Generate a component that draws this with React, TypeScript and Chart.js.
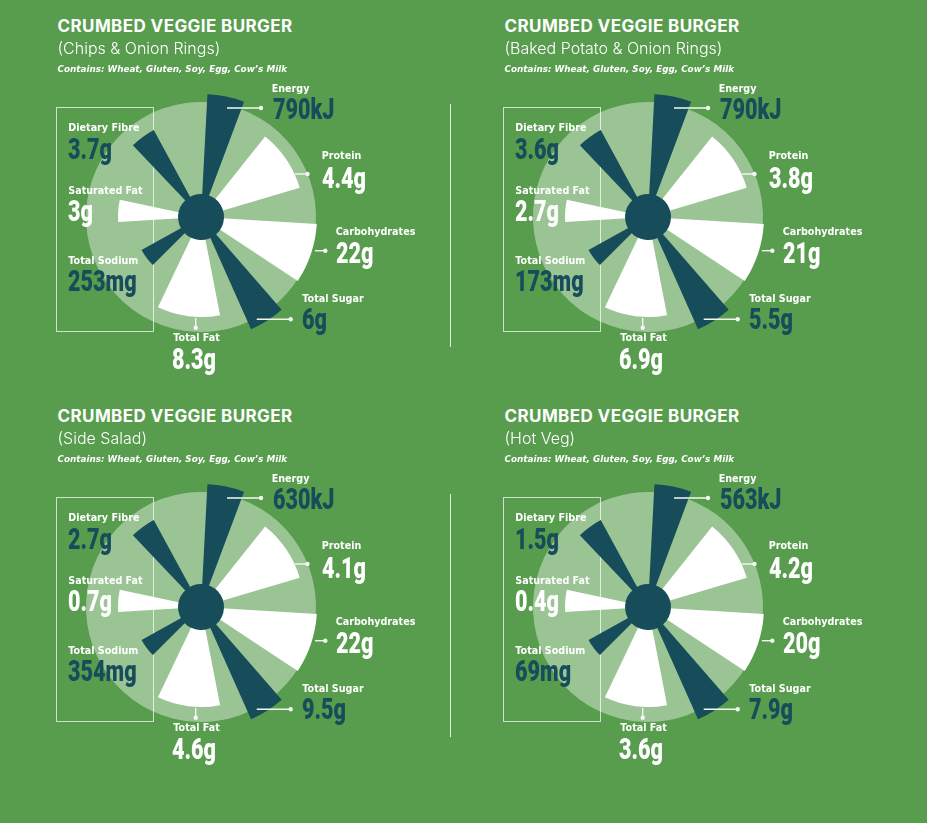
import React, { useEffect, useRef } from 'react';
import { Chart, registerables } from 'chart.js';

Chart.register(...registerables);

// ---------- data ----------
const productTitle = 'CRUMBED VEGGIE BURGER';
const allergenLine = 'Contains: Wheat, Gluten, Soy, Egg, Cow\u2019s Milk';
const mealNames = ['(Chips & Onion Rings)', '(Baked Potato & Onion Rings)', '(Side Salad)', '(Hot Veg)'];
const nutrients = ['Energy', 'Protein', 'Carbohydrates', 'Total Sugar', 'Total Fat', 'Total Sodium', 'Saturated Fat', 'Dietary Fibre'];
const chipsOnionRings = ['790kJ', '4.4g', '22g', '6g', '8.3g', '253mg', '3g', '3.7g'];
const bakedPotatoOnionRings = ['790kJ', '3.8g', '21g', '5.5g', '6.9g', '173mg', '2.7g', '3.6g'];
const sideSalad = ['630kJ', '4.1g', '22g', '9.5g', '4.6g', '354mg', '0.7g', '2.7g'];
const hotVeg = ['563kJ', '4.2g', '20g', '7.9g', '3.6g', '69mg', '0.4g', '1.5g'];
const mealValues = [chipsOnionRings, bakedPotatoOnionRings, sideSalad, hotVeg];
// decorative petal series (radial length, angular span in degrees, following gap in degrees)
const petalLengths = [123, 103, 116, 123, 100, 68, 83, 99];
const petalSpans = [17.5, 35, 30, 17, 36.5, 16, 15.5, 15];
const gapSpans = [18, 20, 15.5, 13, 19.5, 25.5, 34.5, 31.5];
const discValue = [115];
const hubValue = [23];

// ---------- styles / layout ----------
const DARK = '#174d5a';
const WHITE = '#ffffff';
const DISC = 'rgba(255,255,255,0.4)';
const BG = '#589d4e';
const darkNutrients = new Set(['Energy', 'Total Sugar', 'Total Sodium', 'Dietary Fibre']);
const CENTERS: [number, number][] = [[201, 217], [648, 217], [201, 607], [648, 607]];
const HALF = 130;
// label offsets relative to the petal centre: name x, name cap-top, value x, value cap-top
const LABEL_POS = [
  [70.7, -132, 71.7, -119.3],
  [120.7, -65.3, 121, -50.3],
  [134.7, 10.7, 134.7, 24.7],
  [101.3, 78, 101.3, 91.3],
  [-27.7, 117.3, -28.7, 131.3],
  [-132.7, 39.7, -132.7, 53],
  [-132.7, -30.3, -132.7, -17],
  [-132.7, -93, -132.7, -78.7],
];

const connectorPlugin = {
  id: 'connectors',
  afterDatasetsDraw(chart: any) {
    const s = chart.scales.r;
    const cx = s.xCenter;
    const cy = s.yCenter;
    const ctx = chart.ctx;
    const segs = [
      [26, -109, 60, -109],
      [94, -43, 106.5, -43],
      [114, 33.7, 124.3, 33.7],
      [55.7, 102.3, 89.7, 102.3],
      [-5.3, 101, -5.3, 110.7],
    ];
    ctx.save();
    ctx.strokeStyle = '#f4f8f2';
    ctx.fillStyle = '#f4f8f2';
    ctx.lineWidth = 1.4;
    for (const [x1, y1, x2, y2] of segs) {
      ctx.beginPath();
      ctx.moveTo(cx + x1, cy + y1);
      ctx.lineTo(cx + x2, cy + y2);
      ctx.stroke();
      ctx.beginPath();
      ctx.arc(cx + x2, cy + y2, 2.2, 0, Math.PI * 2);
      ctx.fill();
    }
    ctx.restore();
  },
};

function Txt(props: any) {
  const { x, capTop, size, family, weight, capK, color, italic, sx, ls, children } = props;
  return (
    <div
      style={{
        position: 'absolute',
        left: x,
        top: capTop - capK * size,
        fontFamily: family,
        fontSize: size,
        fontWeight: weight,
        fontStyle: italic ? 'italic' : 'normal',
        lineHeight: 1,
        color,
        whiteSpace: 'nowrap',
        letterSpacing: ls || 0,
        transform: sx ? `scaleX(${sx})` : undefined,
        transformOrigin: 'left top',
      }}
    >
      {children}
    </div>
  );
}

function Petals({ cx, cy }: { cx: number; cy: number }) {
  const ref = useRef<HTMLCanvasElement | null>(null);
  useEffect(() => {
    if (!ref.current) return;
    const data: number[] = [];
    const angles: number[] = [];
    const colors: string[] = [];
    petalLengths.forEach((len, i) => {
      data.push(len);
      angles.push(petalSpans[i]);
      colors.push(darkNutrients.has(nutrients[i]) ? DARK : WHITE);
      data.push(0);
      angles.push(gapSpans[i]);
      colors.push('rgba(0,0,0,0)');
    });
    const chart = new Chart(ref.current, {
      type: 'polarArea',
      data: {
        labels: data.map((_, i) => String(i)),
        datasets: [
          { data: hubValue, backgroundColor: DARK, borderWidth: 0, angle: 360 } as any,
          { data, backgroundColor: colors, borderWidth: 0, angle: (c: any) => angles[c.dataIndex] } as any,
          { data: discValue, backgroundColor: DISC, borderWidth: 0, angle: 360 } as any,
        ],
      },
      options: {
        responsive: false,
        animation: false,
        events: [],
        layout: { padding: 0 },
        plugins: { legend: { display: false }, tooltip: { enabled: false } },
        scales: {
          r: {
            min: 0,
            max: HALF,
            startAngle: 3,
            ticks: { display: false },
            grid: { display: false },
            angleLines: { display: false },
            pointLabels: { display: false },
          },
        },
      } as any,
      plugins: [connectorPlugin],
    });
    return () => chart.destroy();
  }, []);
  return (
    <canvas
      ref={ref}
      width={HALF * 2}
      height={HALF * 2}
      style={{ position: 'absolute', left: cx - HALF, top: cy - HALF, width: HALF * 2, height: HALF * 2 }}
    />
  );
}

function Panel({ idx }: { idx: number }) {
  const [cx, cy] = CENTERS[idx];
  const values = mealValues[idx];
  return (
    <>
      <div
        style={{
          position: 'absolute',
          left: cx - 145,
          top: cy - 110,
          width: 98,
          height: 225,
          border: '1.2px solid rgba(255,255,255,0.7)',
          boxSizing: 'border-box',
        }}
      />
      <Petals cx={cx} cy={cy} />
      <Txt x={cx - 143.5} capTop={cy - 196.3} size={17} family="Inter" weight={700} capK={0.137} color={WHITE} ls={0.4}>
        {productTitle}
      </Txt>
      <Txt x={cx - 143.5} capTop={cy - 174.5} size={16} family="Inter" weight={300} capK={0.137} color={WHITE}>
        {mealNames[idx]}
      </Txt>
      <Txt x={cx - 143.5} capTop={cy - 151.3} size={8.8} family="DejaVu Sans" weight={700} italic capK={0.117} color={WHITE}>
        {allergenLine}
      </Txt>
      {nutrients.map((n, i) => {
        const [nx, ny, vx, vy] = LABEL_POS[i];
        return (
          <React.Fragment key={n}>
            <Txt x={cx + nx} capTop={cy + ny} size={9.6} family="DejaVu Sans" weight={700} capK={0.117} color={WHITE}>
              {n}
            </Txt>
            <Txt
              x={cx + vx}
              capTop={cy + vy}
              size={30}
              family="Roboto"
              weight={900}
              capK={0.131}
              color={darkNutrients.has(n) ? DARK : WHITE}
              sx={0.72}
            >
              {values[i]}
            </Txt>
          </React.Fragment>
        );
      })}
    </>
  );
}

export default function App() {
  return (
    <div
      style={{
        position: 'fixed',
        left: 0,
        top: 0,
        width: 927,
        height: 823,
        background: BG,
        overflow: 'hidden',
      }}
    >
      <div style={{ position: 'absolute', left: 449.5, top: 104, width: 1.4, height: 243, background: 'rgba(255,255,255,0.85)' }} />
      <div style={{ position: 'absolute', left: 449.5, top: 494, width: 1.4, height: 243, background: 'rgba(255,255,255,0.85)' }} />
      {CENTERS.map((_, i) => (
        <Panel key={i} idx={i} />
      ))}
    </div>
  );
}
